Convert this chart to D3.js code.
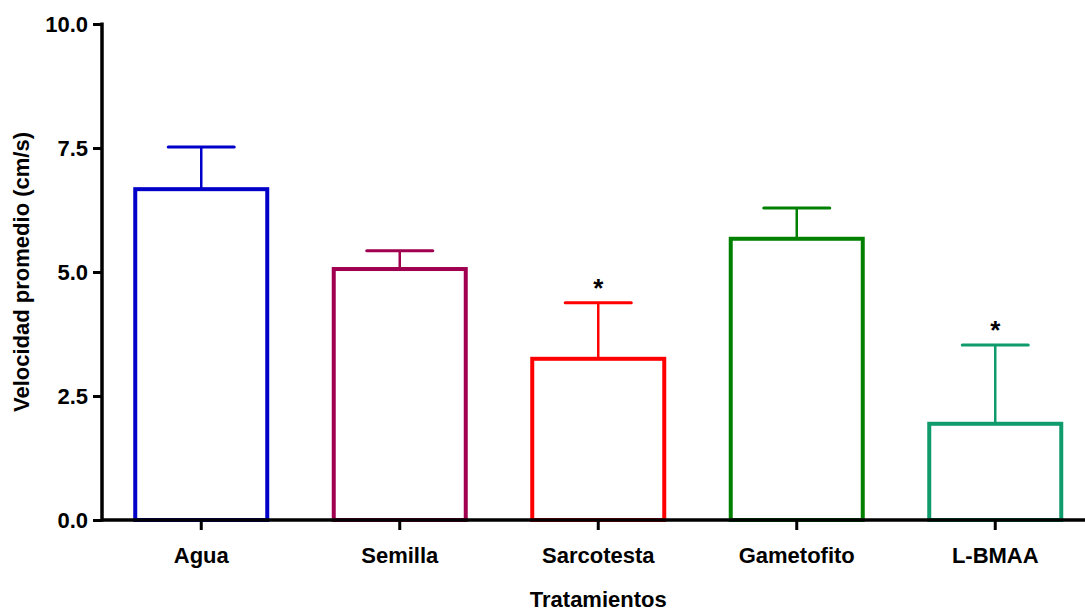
<!DOCTYPE html>
<html>
<head>
<meta charset="utf-8">
<script src="https://cdn.jsdelivr.net/npm/d3@7"></script>
<style>
  body { margin: 0; background: #fff; }
  svg { display: block; font-family: "Liberation Sans", Arial, sans-serif; font-weight: bold; }
</style>
</head>
<body>
<svg></svg>
<script>
// data
let categories = ["Agua", "Semilla", "Sarcotesta", "Gametofito", "L-BMAA"];
let means = [6.67, 5.06, 3.25, 5.67, 1.94];
let errors = [0.85, 0.37, 1.13, 0.62, 1.59];
let signif = [false, false, true, false, true];
let colors = ["#0000c8", "#a0004f", "#ff0000", "#008000", "#0f9b6b"];
let yTicks = [0, 2.5, 5, 7.5, 10];

function makeChart() {
    let svgWidth = 1085;
    let svgHeight = 612;
    let axisX = 102;
    let axisY = 520;

    let svg = d3.select('svg')
        .attr("width", svgWidth)
        .attr("height", svgHeight);

    let scaledX = d3.scaleBand()
        .domain(categories)
        .range([axisX, 1094.5])
        .paddingInner(0.335)
        .paddingOuter(0.1675);

    let scaledY = d3.scaleLinear()
        .domain([0, 10])
        .range([axisY, 24]);

    let data = categories.map((c, i) => ({name: c, mean: means[i], err: errors[i], star: signif[i], color: colors[i]}));

    let bars = svg.append('g').attr('id', 'bars');

    // open bars
    bars.selectAll('rect')
        .data(data).enter().append('rect')
        .attr('x', d => scaledX(d.name))
        .attr('y', d => scaledY(d.mean))
        .attr('width', scaledX.bandwidth())
        .attr('height', d => scaledY(0) - scaledY(d.mean))
        .attr('fill', 'none')
        .attr('stroke', d => d.color)
        .attr('stroke-width', 4);

    // error bars (upper only)
    let cx = d => scaledX(d.name) + scaledX.bandwidth() / 2;
    let capHalf = scaledX.bandwidth() / 4;

    bars.selectAll('line.stem')
        .data(data).enter().append('line')
        .attr('class', 'stem')
        .attr('x1', cx).attr('x2', cx)
        .attr('y1', d => scaledY(d.mean))
        .attr('y2', d => scaledY(d.mean + d.err))
        .attr('stroke', d => d.color)
        .attr('stroke-width', 2.5);

    bars.selectAll('line.cap')
        .data(data).enter().append('line')
        .attr('class', 'cap')
        .attr('x1', d => cx(d) - capHalf).attr('x2', d => cx(d) + capHalf)
        .attr('y1', d => scaledY(d.mean + d.err))
        .attr('y2', d => scaledY(d.mean + d.err))
        .attr('stroke', d => d.color)
        .attr('stroke-width', 3)
        .attr('stroke-linecap', 'round');

    // significance stars
    bars.selectAll('text.star')
        .data(data.filter(d => d.star)).enter().append('text')
        .attr('class', 'star')
        .attr('x', cx)
        .attr('y', d => scaledY(d.mean + d.err) - 6)
        .attr('text-anchor', 'middle')
        .attr('font-size', 26)
        .text('*');

    // axes
    let axsLeft = d3.axisLeft(scaledY)
        .tickValues(yTicks)
        .tickFormat(d3.format('.1f'))
        .tickSize(9)
        .tickPadding(5);
    let gy = svg.append('g').call(axsLeft)
        .attr('transform', 'translate(' + axisX + ',0)');

    let axsBottom = d3.axisBottom(scaledX)
        .tickSize(10)
        .tickPadding(17);
    let gx = svg.append('g').call(axsBottom)
        .attr('transform', 'translate(0,' + axisY + ')');

    [gx, gy].forEach(g => {
        g.selectAll('.domain').remove();
        g.selectAll('.tick line').attr('stroke', '#000').attr('stroke-width', 3);
        g.selectAll('.tick text')
            .attr('fill', '#000')
            .attr('font-family', '"Liberation Sans", Arial, sans-serif')
            .attr('font-weight', 'bold')
            .attr('font-size', 22);
    });

    svg.append('line')
        .attr('x1', axisX).attr('x2', axisX)
        .attr('y1', scaledY(10) - 1.5).attr('y2', axisY + 1.5)
        .attr('stroke', '#000').attr('stroke-width', 3.5);
    svg.append('line')
        .attr('x1', axisX).attr('x2', svgWidth)
        .attr('y1', axisY).attr('y2', axisY)
        .attr('stroke', '#000').attr('stroke-width', 3.5);

    // titles
    svg.append('text')
        .attr('transform', 'translate(29,' + scaledY(5) + ') rotate(-90)')
        .attr('text-anchor', 'middle')
        .attr('font-size', 22)
        .text('Velocidad promedio (cm/s)');

    svg.append('text')
        .attr('x', (axisX + 1094.5) / 2)
        .attr('y', 607)
        .attr('text-anchor', 'middle')
        .attr('font-size', 22)
        .text('Tratamientos');
}

makeChart();
</script>
</body>
</html>
